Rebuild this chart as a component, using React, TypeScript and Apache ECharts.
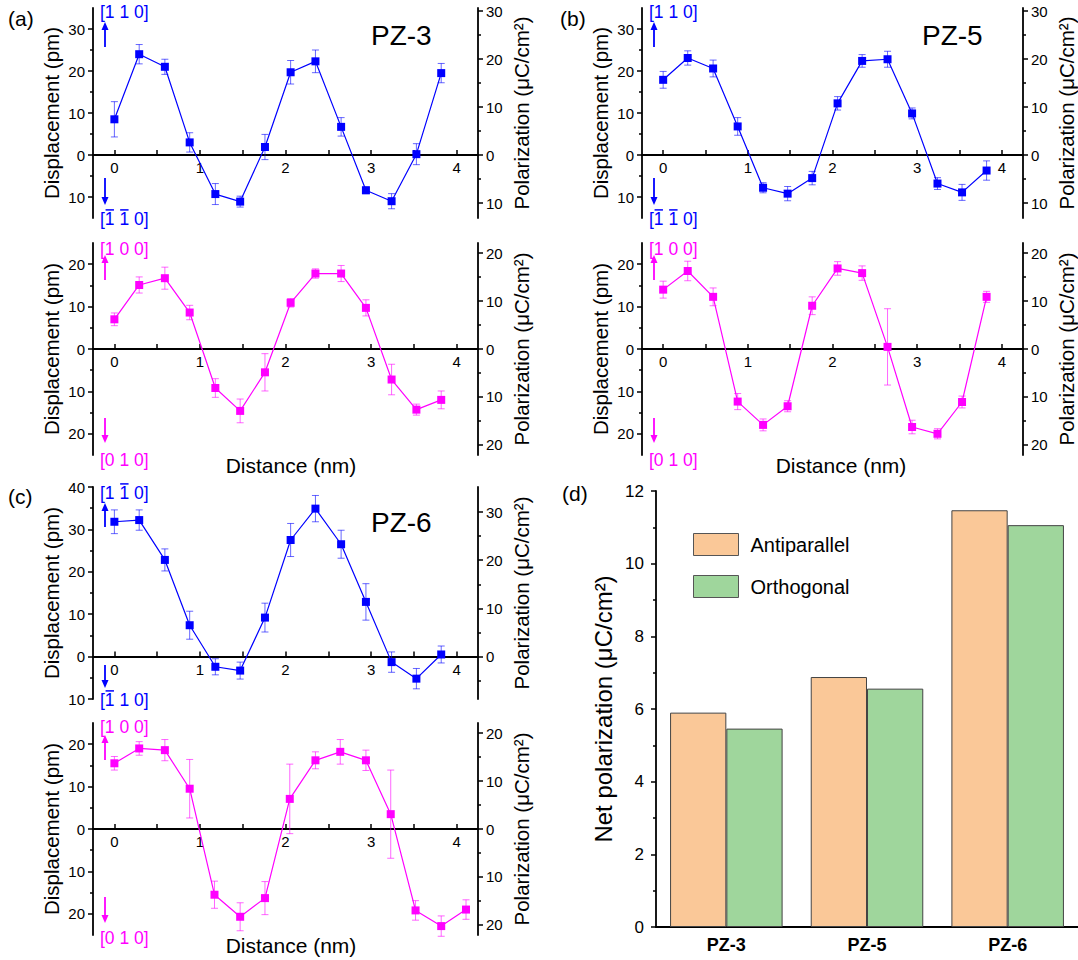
import React, { useEffect, useRef } from 'react';
import * as echarts from 'echarts';

// ---------------- data ----------------
const distance14 = [0, 0.29, 0.59, 0.88, 1.18, 1.47, 1.76, 2.06, 2.35, 2.65, 2.94, 3.24, 3.53, 3.82];
const distance15 = [0, 0.29, 0.59, 0.88, 1.17, 1.47, 1.76, 2.05, 2.35, 2.64, 2.94, 3.23, 3.52, 3.82, 4.11];

const pz3Blue = [8.5, 24.0, 21.0, 3.0, -9.3, -11.1, 1.9, 19.7, 22.3, 6.7, -8.4, -11.0, 0.2, 19.5];
const pz3BlueErr = [4.2, 2.3, 1.8, 2.3, 2.5, 1.3, 3.0, 2.8, 2.7, 2.2, 0.8, 1.8, 2.5, 2.3];
const pz3Magenta = [7.0, 15.1, 16.7, 8.6, -9.2, -14.6, -5.5, 10.9, 17.8, 17.8, 9.7, -7.2, -14.3, -12.0];
const pz3MagentaErr = [1.5, 1.9, 2.6, 1.7, 2.2, 2.8, 4.4, 1.0, 1.1, 1.9, 1.9, 3.6, 1.3, 2.1];

const pz5Blue = [17.9, 23.1, 20.6, 6.8, -7.8, -9.2, -5.5, 12.3, 22.4, 22.8, 9.9, -6.8, -8.9, -3.7];
const pz5BlueErr = [2.0, 1.7, 2.0, 2.1, 1.2, 1.7, 1.6, 1.6, 1.5, 1.9, 1.3, 1.4, 1.9, 2.3];
const pz5Magenta = [14.0, 18.4, 12.3, -12.4, -17.9, -13.5, 10.2, 19.0, 17.9, 0.5, -18.4, -20.0, -12.5, 12.3];
const pz5MagentaErr = [2.0, 2.3, 2.1, 1.9, 1.4, 1.3, 2.1, 1.6, 1.7, 9.0, 1.6, 1.2, 1.4, 1.3];

const pz6Blue = [31.8, 32.2, 22.8, 7.4, -2.4, -3.3, 9.2, 27.5, 34.9, 26.5, 12.9, -1.3, -5.2, 0.5];
const pz6BlueErr = [2.8, 2.4, 2.6, 3.3, 1.9, 2.0, 3.4, 3.9, 3.1, 3.3, 4.3, 2.4, 2.4, 2.0];
const pz6Magenta = [15.5, 19.0, 18.6, 9.5, -15.5, -20.7, -16.3, 7.1, 16.2, 18.2, 16.2, 3.5, -19.2, -22.9, -19.0];
const pz6MagentaErr = [1.6, 1.6, 2.5, 6.9, 3.2, 3.3, 3.9, 8.2, 2.0, 2.9, 2.4, 10.4, 2.3, 2.4, 2.3];

const samples = ['PZ-3', 'PZ-5', 'PZ-6'];
const antiparallel = [5.9, 6.88, 11.47];
const orthogonal = [5.46, 6.56, 11.06];

const xLabelValues = [0, 1, 2, 3, 4];
const xTickValues = [0, 0.5, 1, 1.5, 2, 2.5, 3, 3.5, 4];
const ticksTopMajor = [-10, 0, 10, 20, 30];
const ticksTopMinor = [-5, 5, 15, 25];
const ticksBotMajor = [-20, -10, 0, 10, 20];
const ticksBotMinor = [-15, -5, 5, 15];
const ticksC6Major = [-10, 0, 10, 20, 30, 40];
const ticksC6Minor = [-5, 5, 15, 25, 35];
const ticksC6RightMajor = [0, 10, 20, 30];
const ticksC6RightMinor = [-5, 5, 15, 25];

// ---------------- styling ----------------
const FONT = '"Liberation Sans", Arial, Helvetica, sans-serif';
const BLUE = '#0000FF';
const MAGENTA = '#FF00FF';
const GRID_W = 385;

const panels = [
  { left: 93, top: 8, height: 210, yMin: -15, yMax: 35, k: 0.875, x: distance14, y: pz3Blue, err: pz3BlueErr, color: BLUE, lMaj: ticksTopMajor, lMin: ticksTopMinor, rMaj: ticksTopMajor, rMin: ticksTopMinor },
  { left: 93, top: 243, height: 212, yMin: -25, yMax: 25, k: 0.885, x: distance14, y: pz3Magenta, err: pz3MagentaErr, color: MAGENTA, lMaj: ticksBotMajor, lMin: ticksBotMinor, rMaj: ticksBotMajor, rMin: ticksBotMinor },
  { left: 642, top: 8, height: 210, yMin: -15, yMax: 35, k: 0.875, x: distance14, y: pz5Blue, err: pz5BlueErr, color: BLUE, lMaj: ticksTopMajor, lMin: ticksTopMinor, rMaj: ticksTopMajor, rMin: ticksTopMinor },
  { left: 642, top: 243, height: 212, yMin: -25, yMax: 25, k: 0.885, x: distance14, y: pz5Magenta, err: pz5MagentaErr, color: MAGENTA, lMaj: ticksBotMajor, lMin: ticksBotMinor, rMaj: ticksBotMajor, rMin: ticksBotMinor },
  { left: 93, top: 487, height: 212, yMin: -10, yMax: 40, k: 0.88, x: distance14, y: pz6Blue, err: pz6BlueErr, color: BLUE, lMaj: ticksC6Major, lMin: ticksC6Minor, rMaj: ticksC6RightMajor, rMin: ticksC6RightMinor },
  { left: 93, top: 723, height: 212, yMin: -25, yMax: 25, k: 0.885, x: distance15, y: pz6Magenta, err: pz6MagentaErr, color: MAGENTA, lMaj: ticksBotMajor, lMin: ticksBotMinor, rMaj: ticksBotMajor, rMin: ticksBotMinor },
];

const absFmt = (v: number) => String(Math.abs(Math.round(v * 100) / 100));

function txt(x: number, y: number, text: string, fontSize: number, color = '#000', align = 'left', weight = 'normal') {
  return { type: 'text', x, y, z: 10, style: { text, fill: color, fontSize, fontFamily: FONT, fontWeight: weight, align, verticalAlign: 'middle' } };
}

function arrow(x: number, yTail: number, yTip: number, color: string) {
  const dir = yTip < yTail ? -1 : 1;
  const headLen = 8;
  const half = 3.5;
  const base = yTip - dir * headLen;
  return [
    { type: 'line', z: 10, shape: { x1: x, y1: yTail, x2: x, y2: base }, style: { stroke: color, lineWidth: 1.8 } },
    { type: 'polygon', z: 10, shape: { points: [[x, yTip], [x - half, base], [x + half, base]] }, style: { fill: color } },
  ];
}

function overbars(L: number, cy: number, which: number[], fs: number, color: string) {
  return which.map((k) => {
    const start = L + fs * (0.278 + k * 0.834);
    return { type: 'line', z: 10, shape: { x1: start + fs * 0.04, y1: cy - fs * 0.52, x2: start + fs * 0.52, y2: cy - fs * 0.52 }, style: { stroke: color, lineWidth: 1.5 } };
  });
}

function buildOption() {
  const grid: any[] = [];
  const xAxis: any[] = [];
  const yAxis: any[] = [];
  const series: any[] = [];
  const labelStyle = { fontSize: 15, color: '#000', fontFamily: FONT };
  const nameStyle = { fontSize: 20.5, color: '#000', fontFamily: FONT };
  const tickLine = { color: '#000', width: 1.5 };

  panels.forEach((p, i) => {
    grid.push({ left: p.left, top: p.top, width: GRID_W, height: p.height });
    const zeroOffset = -((0 - p.yMin) / (p.yMax - p.yMin)) * p.height;
    xAxis.push({
      type: 'value', gridIndex: i, min: -0.25, max: 4.25, position: 'bottom', offset: zeroOffset,
      axisLine: { show: true, onZero: false, lineStyle: { color: '#000', width: 2 } },
      axisTick: { show: true, inside: true, length: 5, customValues: xTickValues, lineStyle: tickLine },
      axisLabel: { show: true, customValues: xLabelValues, margin: 5, ...labelStyle },
      splitLine: { show: false },
    });
    yAxis.push({
      type: 'value', gridIndex: i, position: 'left', min: p.yMin, max: p.yMax,
      axisLine: { show: true, onZero: false, lineStyle: { color: '#000', width: 1.8 } },
      axisTick: { show: true, length: 5, customValues: p.lMaj, lineStyle: tickLine },
      axisLabel: { show: true, customValues: p.lMaj, margin: 8, formatter: absFmt, ...labelStyle },
      splitLine: { show: false },
      name: 'Displacement (pm)', nameLocation: 'middle', nameRotate: 90, nameGap: 31, nameTextStyle: nameStyle,
    });
    yAxis.push({
      type: 'value', gridIndex: i, position: 'left', min: p.yMin, max: p.yMax,
      axisLine: { show: false, onZero: false },
      axisTick: { show: true, length: 3, customValues: p.lMin, lineStyle: tickLine },
      axisLabel: { show: false }, splitLine: { show: false },
    });
    yAxis.push({
      type: 'value', gridIndex: i, position: 'right', min: p.yMin * p.k, max: p.yMax * p.k,
      axisLine: { show: true, onZero: false, lineStyle: { color: '#000', width: 1.8 } },
      axisTick: { show: true, length: 5, customValues: p.rMaj, lineStyle: tickLine },
      axisLabel: { show: true, customValues: p.rMaj, margin: 8, formatter: absFmt, ...labelStyle },
      splitLine: { show: false },
      name: 'Polarization (μC/cm²)', nameLocation: 'middle', nameRotate: 90, nameGap: 33, nameTextStyle: nameStyle,
    });
    yAxis.push({
      type: 'value', gridIndex: i, position: 'right', min: p.yMin * p.k, max: p.yMax * p.k,
      axisLine: { show: false, onZero: false },
      axisTick: { show: true, length: 3, customValues: p.rMin, lineStyle: tickLine },
      axisLabel: { show: false }, splitLine: { show: false },
    });
    const color = p.color;
    series.push({
      type: 'custom', xAxisIndex: i, yAxisIndex: i * 4, z: 2,
      encode: { x: 0, y: 1 },
      data: p.x.map((xv, j) => [xv, p.y[j], p.err[j]]),
      renderItem: (params: any, api: any) => {
        const xv = api.value(0), yv = api.value(1), e = api.value(2);
        const a = api.coord([xv, yv + e]);
        const b = api.coord([xv, yv - e]);
        const c = 3.5;
        const style = { stroke: color, lineWidth: 1, opacity: 0.6 };
        return {
          type: 'group', children: [
            { type: 'line', shape: { x1: a[0], y1: a[1], x2: b[0], y2: b[1] }, style },
            { type: 'line', shape: { x1: a[0] - c, y1: a[1], x2: a[0] + c, y2: a[1] }, style },
            { type: 'line', shape: { x1: b[0] - c, y1: b[1], x2: b[0] + c, y2: b[1] }, style },
          ],
        };
      },
    });
    series.push({
      type: 'line', xAxisIndex: i, yAxisIndex: i * 4, z: 3,
      data: p.x.map((xv, j) => [xv, p.y[j]]),
      symbol: 'rect', symbolSize: 8, showSymbol: true,
      itemStyle: { color }, lineStyle: { color, width: 1.2 },
    });
  });

  // panel (d)
  grid.push({ left: 656, top: 491, width: 426, height: 436 });
  xAxis.push({
    type: 'category', gridIndex: 6, data: samples,
    axisLine: { show: true, lineStyle: { color: '#000', width: 2 } },
    axisTick: { show: false },
    axisLabel: { fontSize: 18, fontWeight: 'bold', color: '#000', margin: 9, fontFamily: FONT },
  });
  yAxis.push({
    type: 'value', gridIndex: 6, position: 'left', min: 0, max: 12, interval: 2,
    axisLine: { show: true, onZero: false, lineStyle: { color: '#000', width: 1.8 } },
    axisTick: { show: true, length: 5, lineStyle: tickLine },
    minorTick: { show: true, splitNumber: 2, length: 3, lineStyle: tickLine },
    axisLabel: { fontSize: 17, color: '#000', margin: 12, fontFamily: FONT },
    splitLine: { show: false }, minorSplitLine: { show: false },
    name: 'Net polarization (μC/cm²)', nameLocation: 'middle', nameRotate: 90, nameGap: 41,
    nameTextStyle: { fontSize: 24, color: '#000', fontFamily: FONT },
  });
  series.push({
    type: 'bar', name: 'Antiparallel', xAxisIndex: 6, yAxisIndex: 24, data: antiparallel,
    barGap: '0%', barCategoryGap: '20%',
    itemStyle: { color: '#FAC898', borderColor: '#444', borderWidth: 1 },
  });
  series.push({
    type: 'bar', name: 'Orthogonal', xAxisIndex: 6, yAxisIndex: 24, data: orthogonal,
    barGap: '0%', barCategoryGap: '20%',
    itemStyle: { color: '#9FD69C', borderColor: '#444', borderWidth: 1 },
  });

  // graphic annotations
  const g: any[] = [];
  g.push(txt(8, 18, '(a)', 21), txt(560, 18, '(b)', 21), txt(8, 496, '(c)', 21), txt(562, 493, '(d)', 21));
  g.push(txt(371, 35, 'PZ-3', 28), txt(922, 35, 'PZ-5', 28), txt(371, 522, 'PZ-6', 28));
  g.push(txt(291, 465, 'Distance (nm)', 21, '#000', 'center'), txt(841, 465, 'Distance (nm)', 21, '#000', 'center'), txt(291, 945, 'Distance (nm)', 21, '#000', 'center'));

  const FS = 17.5;
  [0, 549].forEach((dx) => {
    const L = 100 + dx;
    const ax = 105 + dx;
    g.push(txt(L, 12, '[1 1 0]', FS, BLUE));
    g.push(...arrow(ax, 47, 22, BLUE));
    g.push(...arrow(ax, 178, 205, BLUE));
    g.push(txt(L, 219, '[1 1 0]', FS, BLUE));
    g.push(...overbars(L, 219, [0, 1], FS, BLUE));
    g.push(txt(L, 249, '[1 0 0]', FS, MAGENTA));
    g.push(...arrow(ax, 280, 255, MAGENTA));
    g.push(...arrow(ax, 418, 443, MAGENTA));
    g.push(txt(L, 460, '[0 1 0]', FS, MAGENTA));
  });
  {
    const L = 100;
    const ax = 105;
    g.push(txt(L, 493, '[1 1 0]', FS, BLUE));
    g.push(...overbars(L, 493, [1], FS, BLUE));
    g.push(...arrow(ax, 527, 503, BLUE));
    g.push(...arrow(ax, 665, 688, BLUE));
    g.push(txt(L, 700, '[1 1 0]', FS, BLUE));
    g.push(...overbars(L, 700, [0], FS, BLUE));
    g.push(txt(L, 727, '[1 0 0]', FS, MAGENTA));
    g.push(...arrow(ax, 760, 735, MAGENTA));
    g.push(...arrow(ax, 897, 923, MAGENTA));
    g.push(txt(L, 938, '[0 1 0]', FS, MAGENTA));
  }

  return {
    animation: false,
    backgroundColor: '#fff',
    textStyle: { fontFamily: FONT },
    grid, xAxis, yAxis, series,
    legend: {
      show: true, orient: 'vertical', left: 693, top: 533, padding: 0,
      itemWidth: 45, itemHeight: 22, itemGap: 19,
      data: ['Antiparallel', 'Orthogonal'], icon: 'rect',
      itemStyle: { borderColor: '#555', borderWidth: 1 },
      textStyle: { fontSize: 20, color: '#000', fontFamily: FONT, padding: [0, 0, 0, 7] },
    },
    graphic: g,
  };
}

export default function App() {
  const ref = useRef<HTMLDivElement>(null);
  useEffect(() => {
    document.body.style.margin = '0';
    if (!ref.current) return;
    const chart = echarts.init(ref.current, null, { renderer: 'svg', width: 1078, height: 960 });
    chart.setOption(buildOption() as any);
    return () => chart.dispose();
  }, []);
  return <div ref={ref} style={{ width: 1078, height: 960 }} />;
}
